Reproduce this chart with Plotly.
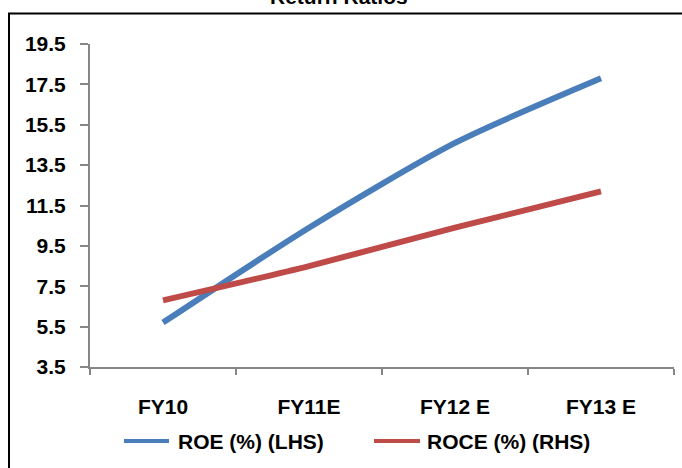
import plotly.graph_objects as go

# Return ratios by fiscal year
years = ["FY10", "FY11E", "FY12 E", "FY13 E"]
roe = [5.7, 10.4, 14.6, 17.8]
roce = [6.8, 8.5, 10.4, 12.2]
y_ticks = [3.5, 5.5, 7.5, 9.5, 11.5, 13.5, 15.5, 17.5, 19.5]

series = [
    ("ROE (%) (LHS)", roe, "#4A7EBB"),
    ("ROCE (%) (RHS)", roce, "#BE4B48"),
]

W, H = 682, 468
L, R, T, B = 90, 8, 44, 101
pw, ph = W - L - R, H - T - B

def px_x(x):
    return (x - L) / pw

def px_y(y):
    return (H - B - y) / ph

FONT = "Arial, Liberation Sans, sans-serif"
bold = dict(family=FONT, size=21, color="#000000", weight="bold")

fig = go.Figure()
for name, vals, color in series:
    fig.add_trace(go.Scatter(
        x=years, y=vals, name=name, mode="lines", showlegend=False,
        line=dict(color=color, width=6, shape="spline", smoothing=0.7),
    ))

fig.update_layout(
    width=W, height=H, autosize=False,
    margin=dict(l=L, r=R, t=T, b=B, pad=0),
    paper_bgcolor="white", plot_bgcolor="white",
    font=bold,
    xaxis=dict(
        type="category", range=[-0.5, 3.5], tickson="boundaries",
        showline=True, linecolor="#868686", linewidth=2,
        ticks="outside", ticklen=6, tickcolor="#868686", tickwidth=2,
        showgrid=False, zeroline=False, ticklabelstandoff=20,
        tickfont=bold,
    ),
    yaxis=dict(
        range=[3.5, 19.5], tickmode="array", tickvals=y_ticks,
        ticktext=[f"{v:.1f}" for v in y_ticks],
        showline=True, linecolor="#868686", linewidth=2,
        ticks="outside", ticklen=8, tickcolor="#868686", tickwidth=2,
        showgrid=False, zeroline=False, ticklabelstandoff=10,
        tickfont=bold,
    ),
)

# Chart frame (partly outside the visible area)
fig.add_shape(
    type="rect", xref="paper", yref="paper",
    x0=px_x(9), x1=px_x(W + 20), y0=px_y(H + 20), y1=px_y(13.5),
    line=dict(color="#000000", width=2), fillcolor="rgba(0,0,0,0)", layer="below",
)

# Chart title
fig.add_annotation(
    text="Return Ratios", xref="paper", yref="paper",
    x=px_x(339), y=px_y(-4), xanchor="center", yanchor="middle",
    showarrow=False, font=bold,
)

# Legend below the axis: line sample followed by series name
legend_y = 441
legend_items = [(124, 169, 176), (374, 420, 425)]
for (name, _, color), (sx0, sx1, tx) in zip(series, legend_items):
    fig.add_shape(
        type="line", xref="paper", yref="paper",
        x0=px_x(sx0), x1=px_x(sx1), y0=px_y(legend_y), y1=px_y(legend_y),
        line=dict(color=color, width=4),
    )
    fig.add_annotation(
        text=name, xref="paper", yref="paper",
        x=px_x(tx), y=px_y(legend_y), xanchor="left", yanchor="middle",
        showarrow=False, font=bold,
    )

fig.write_html("out.html")
